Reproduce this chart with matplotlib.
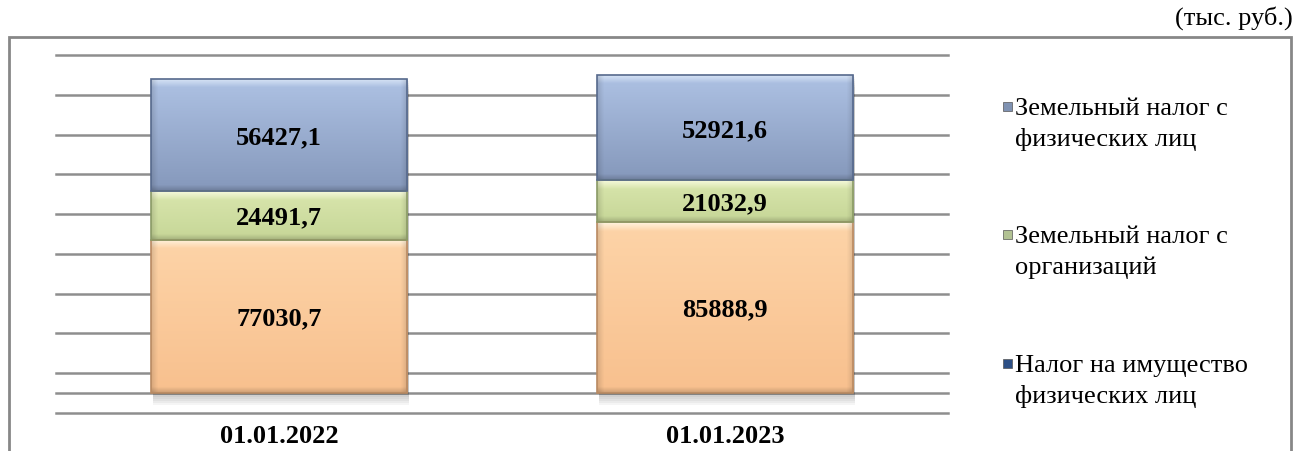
import numpy as np
import matplotlib.pyplot as plt
from matplotlib.patches import Rectangle
from matplotlib.colors import to_rgb

# data (тыс. руб.)
dates = ["01.01.2022", "01.01.2023"]
property_tax = [77030.7, 85888.9]    # bottom segment
land_org = [24491.7, 21032.9]        # middle segment
land_phys = [56427.1, 52921.6]       # top segment

legend_labels = [
    "Земельный налог с\nфизических лиц",
    "Земельный налог с\nорганизаций",
    "Налог на имущество\nфизических лиц",
]
legend_colors = ["#8093b3", "#b2c293", "#2d4f85"]

# segment styles: (highlight, top of body, bottom of body, edge)
styles = [
    ("#fff4e0", "#fdd4a8", "#f8c08e", "#b98a62"),
    ("#f6fadc", "#d9e6ad", "#c6d697", "#8a9a66"),
    ("#dbe7f7", "#aec2e4", "#8598bb", "#56698c"),
]

W, H = 1296, 452
plt.rcParams["font.family"] = ["Liberation Serif", "DejaVu Serif"]

fig = plt.figure(figsize=(W / 100, H / 100), dpi=100)
ax = fig.add_axes([56 / W, 1 - 414 / H, (948 - 56) / W, (414 - 56) / H])
ax.set_xlim(-0.5, 1.5)
ax.set_ylim(-10000, 170000)

for y in range(-10000, 170001, 20000):
    ax.axhline(y, color="#8e8e8e", lw=1.8, zorder=0, clip_on=False)
ax.axhline(0, color="#8e8e8e", lw=1.8, zorder=0, clip_on=False)

x = np.arange(len(dates))
width = 0.574
series = [property_tax, land_org, land_phys]
bottoms = np.zeros(len(dates))

# px per data unit, used to keep the bevel band a fixed size
px_per_unit = (414 - 56) / 180000.0
px_per_x = (948 - 56) / 2.0


def gradient(hl, top, bot, seg_px, seg_w_px, n=300):
    t = np.linspace(0, 1, n)
    c_top, c_bot, c_hl = np.array(to_rgb(top)), np.array(to_rgb(bot)), np.array(to_rgb(hl))
    col = c_top[None, :] + (c_bot - c_top)[None, :] * t[:, None]
    band = 9.0 / seg_px
    w = np.clip(1 - t / band, 0, 1)[:, None]
    col = col * (1 - w) + c_hl[None, :] * w
    # darker bottom lip
    lip = np.clip((t - (1 - 6.0 / seg_px)) / (6.0 / seg_px), 0, 1)[:, None]
    col = col * (1 - 0.18 * lip)
    m = 120
    s = np.linspace(0, 1, m)
    edge = 6.0 / seg_w_px
    side = np.clip(np.minimum(s, 1 - s) / edge, 0, 1)
    img = col[:, None, :] * (0.88 + 0.12 * side)[None, :, None]
    return np.clip(img, 0, 1)


# soft shadow under the bars
totals = np.sum(series, axis=0)
for k in range(6):
    off = (k + 1) * 2.0 / px_per_unit
    ax.bar(x + 2 / px_per_x, totals, width, bottom=-off, color="#000000",
           alpha=0.04, lw=0, zorder=1)

for vals, (hl, top, bot, edge) in zip(series, styles):
    bars = ax.bar(x, vals, width, bottom=bottoms, color="none",
                  edgecolor=edge, lw=1.2, zorder=3)
    for b, v in zip(bars, vals):
        l, bo = b.get_x(), b.get_y()
        img = gradient(hl, top, bot, v * px_per_unit, width * px_per_x)
        im = ax.imshow(img, extent=[l, l + b.get_width(), bo, bo + v],
                       aspect="auto", origin="upper", zorder=2,
                       interpolation="bilinear")
        im.set_clip_path(b)
        ax.text(b.get_x() + b.get_width() / 2, bo + v / 2 - 1.5 / px_per_unit,
                f"{v:.1f}".replace(".", ","), ha="center", va="center",
                fontsize=19, fontweight="bold", zorder=4)
    bottoms += np.array(vals)

ax.set_xticks([])
ax.set_yticks([])
for s in ax.spines.values():
    s.set_visible(False)

for xi, d in zip(x, dates):
    ax.text(xi, -10000 - 23 / px_per_unit, d, ha="center", va="center",
            fontsize=19, fontweight="bold", clip_on=False)

# legend drawn by hand: marker aligned with the first line of each label
legend_base = [115, 243, 372]
for lab, col, yb in zip(legend_labels, legend_colors, legend_base):
    fig.add_artist(Rectangle((1003 / W, 1 - (yb - 3) / H), 9 / W, 9 / H,
                             transform=fig.transFigure, color=col, ec="#555555", lw=0.5))
    for i, line in enumerate(lab.split("\n")):
        fig.text(1015 / W, 1 - (yb + i * 31) / H, line, ha="left", va="baseline",
                 fontsize=19)

fig.text(1293 / W, 1 - 18 / H, "(тыс. руб.)", ha="right", va="center", fontsize=19)

fig.add_artist(Rectangle((9 / W, -0.02), (1291 - 9) / W, (H - 38) / H + 0.02,
                         transform=fig.transFigure, fill=False, ec="#878787", lw=2))

fig.savefig("out.png", dpi=100)
